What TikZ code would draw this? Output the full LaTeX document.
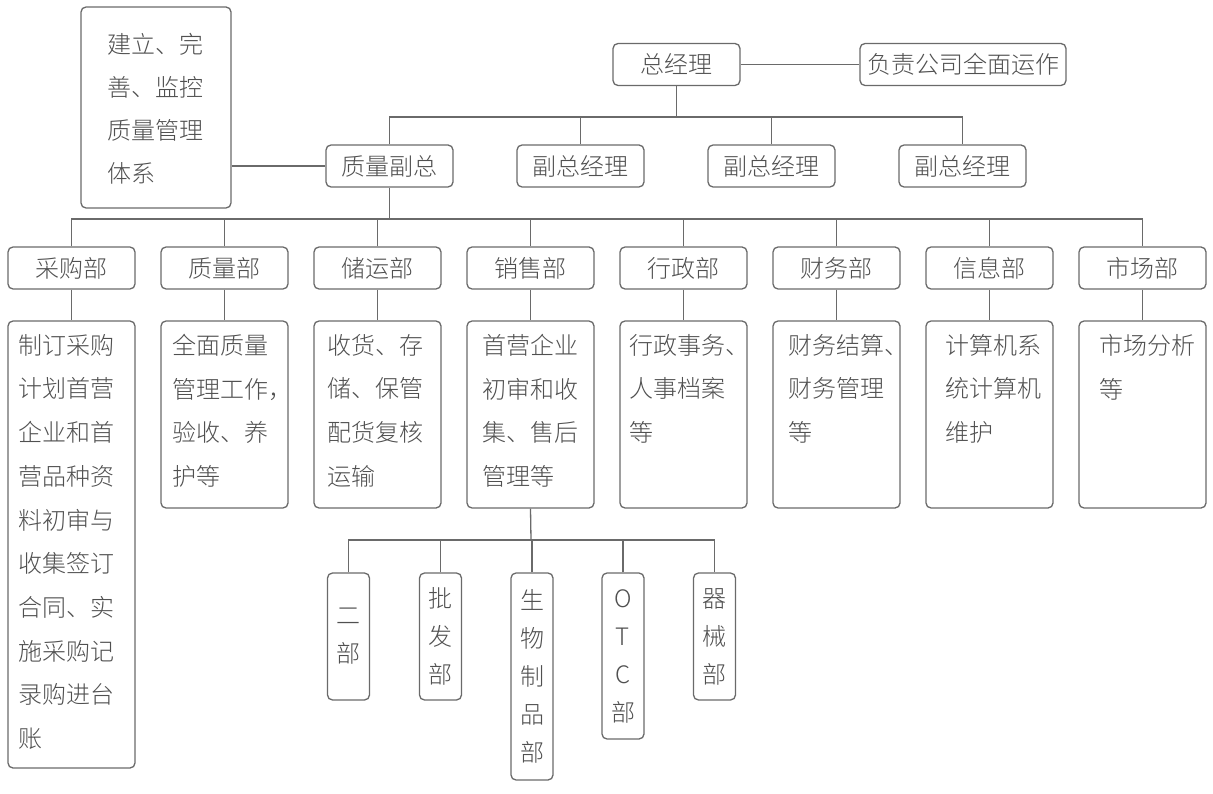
\documentclass[tikz,border=0pt]{standalone}
\usepackage{fontspec}
\IfFontExistsTF{Noto Sans CJK SC Light}{\setmainfont{Noto Sans CJK SC Light}}{\setmainfont{Noto Sans CJK SC}}
\definecolor{txt}{HTML}{505050}
\definecolor{ln}{HTML}{6A6A6A}
\tikzset{
  frame/.style={draw=ln, line width=1.3pt, rounded corners=5pt, inner sep=0pt},
  hd/.style={frame, minimum height=42pt, text=txt, font=\fontsize{24}{24}\selectfont,
     text height=19.9pt, text depth=1.7pt},
  dbox/.style={frame, minimum width=127pt},
  sub/.style={frame, minimum width=42pt, align=center, text=txt,
     font=\fontsize{24}{38}\selectfont},
  body/.style={anchor=north west, align=left, inner sep=0pt, text=txt,
     font=\fontsize{24}{43.7}\selectfont},
  conn/.style={draw=ln, line width=1.3pt},
}
\begin{document}
\begin{tikzpicture}[x=1pt,y=-1pt]
\useasboundingbox[fill=white] (0,0) rectangle (1213,794);
% top level
\node[hd, minimum width=127pt] (gm) at (676.5,64.5) {总经理};
\node[hd, minimum width=206pt] (resp) at (963,64.5) {负责公司全面运作};
\node[frame, minimum width=150pt, minimum height=201pt] (note) at (156,107.5) {};
\node[body, font=\fontsize{24}{43}\selectfont] (notet) at (107,33) {建立、完\\善、监控\\质量管理\\体系};
% VPs
\node[hd, minimum width=127pt] (vp0) at (389.5,166) {质量副总};
\node[hd, minimum width=127pt] (vp1) at (580.5,166) {副总经理};
\node[hd, minimum width=127pt] (vp2) at (771.5,166) {副总经理};
\node[hd, minimum width=127pt] (vp3) at (962.5,166) {副总经理};
% departments
\node[hd, minimum width=127pt] (d1) at (71.5,268) {采购部};
\node[hd, minimum width=127pt] (d2) at (224.5,268) {质量部};
\node[hd, minimum width=127pt] (d3) at (377.5,268) {储运部};
\node[hd, minimum width=127pt] (d4) at (530.5,268) {销售部};
\node[hd, minimum width=127pt] (d5) at (683.5,268) {行政部};
\node[hd, minimum width=127pt] (d6) at (836.5,268) {财务部};
\node[hd, minimum width=127pt] (d7) at (989.5,268) {信息部};
\node[hd, minimum width=127pt] (d8) at (1142.5,268) {市场部};
% description boxes
\node[dbox, minimum height=447pt] (e1) at (71.5,544.5) {};
\node[dbox, minimum height=187pt] (e2) at (224.5,414.5) {};
\node[dbox, minimum height=187pt] (e3) at (377.5,414.5) {};
\node[dbox, minimum height=187pt] (e4) at (530.5,414.5) {};
\node[dbox, minimum height=187pt] (e5) at (683.5,414.5) {};
\node[dbox, minimum height=187pt] (e6) at (836.5,414.5) {};
\node[dbox, minimum height=187pt] (e7) at (989.5,414.5) {};
\node[dbox, minimum height=187pt] (e8) at (1142.5,414.5) {};
\node[body] (t1) at (18,334) {制订采购\\计划首营\\企业和首\\营品种资\\料初审与\\收集签订\\合同、实\\施采购记\\录购进台\\账};
\node[body] (t2) at (172,334) {全面质量\\管理工作，\\验收、养\\护等};
\node[body] (t3) at (327,334) {收货、存\\储、保管\\配货复核\\运输};
\node[body] (t4) at (482,334) {首营企业\\初审和收\\集、售后\\管理等};
\node[body] (t5) at (629,334) {行政事务、\\人事档案\\等};
\node[body] (t6) at (788,334) {财务结算、\\财务管理\\等};
\node[body] (t7) at (945,334) {计算机系\\统计算机\\维护};
\node[body] (t8) at (1099,334) {市场分析\\等};
% sales sub-departments
\node[sub, minimum height=127pt] (s1) at (348.5,636.5) {二\\部};
\node[sub, minimum height=127pt] (s2) at (440.5,636.5) {批\\发\\部};
\node[sub, minimum height=207pt] (s3) at (532,676.5) {生\\物\\制\\品\\部};
\node[sub, minimum height=166pt] (s4) at (623,656) {O\\T\\C\\部};
\node[sub, minimum height=127pt] (s5) at (714.5,636.5) {器\\械\\部};
% bus coordinates
\coordinate (b1) at (676.5,117);
\coordinate (b2) at (389.5,219);
\coordinate (b3) at (531,540);
% connectors
\draw[conn] (gm.east) -- (resp.west);
\draw[conn] (vp0.west) -- (note.east |- vp0.west);
\draw[conn] (gm.south) -- (b1);
\draw[conn] (vp0.north) -- (vp0.north |- b1) -- (vp3.north |- b1) -- (vp3.north);
\foreach \v in {vp1,vp2} \draw[conn] (\v.north) -- (\v.north |- b1);
\draw[conn] (vp0.south) -- (b2);
\draw[conn] (d1.north) -- (d1.north |- b2) -- (d8.north |- b2) -- (d8.north);
\foreach \d in {d2,d3,d4,d5,d6,d7} \draw[conn] (\d.north) -- (\d.north |- b2);
\foreach \i in {1,...,8} \draw[conn] (d\i.south) -- (e\i.north);
\draw[conn] (e4.south) -- (b3);
\draw[conn] (s1.north) -- (s1.north |- b3) -- (s5.north |- b3) -- (s5.north);
\foreach \s in {s2,s3,s4} \draw[conn] (\s.north) -- (\s.north |- b3);
\end{tikzpicture}
\end{document}
